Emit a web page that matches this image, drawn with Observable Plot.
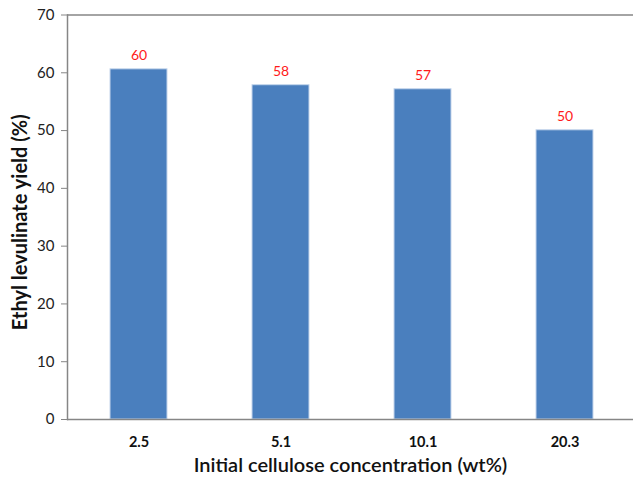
<!DOCTYPE html>
<html>
<head>
<meta charset="utf-8">
<script src="https://cdn.jsdelivr.net/npm/d3@7"></script>
<script src="https://cdn.jsdelivr.net/npm/@observablehq/plot@0.6"></script>
<style>
  html, body { margin: 0; padding: 0; background: #fff; }
  svg { display: block; }
</style>
</head>
<body>
<div id="chart"></div>
<script>
const concentrations = ["2.5", "5.1", "10.1", "20.3"];
const yields = [60.6, 57.85, 57.15, 50.05];
const labels = ["60", "58", "57", "50"];
const yTicks = [0, 10, 20, 30, 40, 50, 60, 70];
const xTitle = "Initial cellulose concentration (wt%)";
const yTitle = "Ethyl levulinate yield (%)";

const data = concentrations.map((c, i) => ({c, v: yields[i], label: labels[i]}));
const font = "Lato, 'Open Sans', sans-serif";

const chart = Plot.plot({
  width: 633,
  height: 477,
  marginLeft: 67,
  marginRight: 0,
  marginTop: 14.5,
  marginBottom: 58,
  style: {fontFamily: font, background: "#fff"},
  x: {domain: concentrations, range: [67, 636], paddingInner: 0.6, paddingOuter: 0.3, label: null},
  y: {domain: [0, 70], label: null},
  marks: [
    Plot.barY(data, {x: "c", y: "v", fill: "#4a7fbe", stroke: "#c5d6ec", strokeWidth: 1}),
    Plot.text(data, {x: "c", y: "v", text: "label", dy: -14, fill: "#ff1a1a", fontSize: 14}),
    Plot.frame({anchor: "left", stroke: "#868686", strokeWidth: 1.5}),
    Plot.ruleY([0, 70], {stroke: "#868686", strokeWidth: 1.5}),
    Plot.axisY(yTicks, {tickSize: 6, tickPadding: 7, fontSize: 15, fill: "#222", stroke: "#868686", label: null}),
    Plot.axisX({tickSize: 0, tickPadding: 17, fontSize: 14.5, fontWeight: "bold", fill: "#111", label: null}),
    Plot.text([xTitle], {frameAnchor: "bottom", dy: 52, fontSize: 20, fontWeight: 600, fill: "#111"}),
    Plot.text([yTitle], {frameAnchor: "left", textAnchor: "middle", dx: -47, dy: 5, rotate: -90, fontSize: 20, fontWeight: "bold", fill: "#111"})
  ]
});
document.getElementById("chart").appendChild(chart);
</script>
</body>
</html>
